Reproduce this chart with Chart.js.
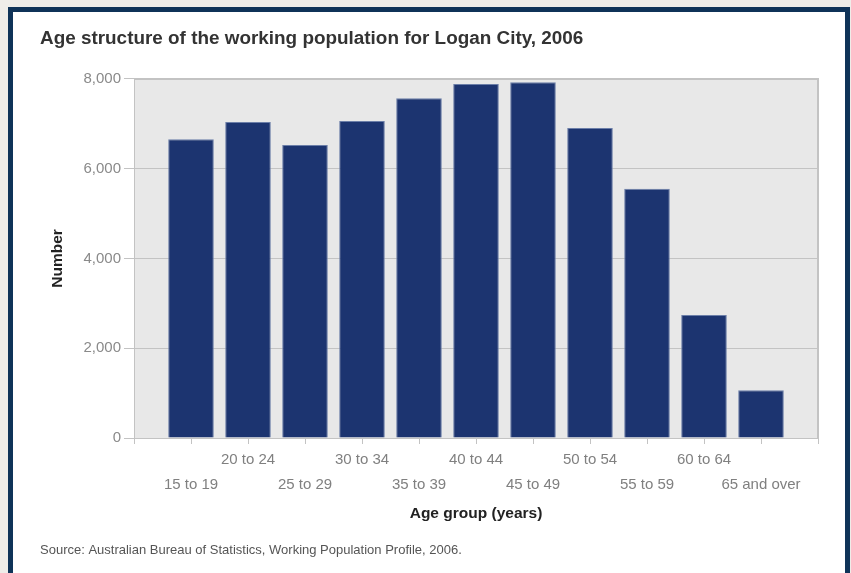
<!DOCTYPE html>
<html>
<head>
<meta charset="utf-8">
<script src="https://cdn.jsdelivr.net/npm/chart.js@4"></script>
<style>
  html, body { margin: 0; padding: 0; background: #efede9; overflow: hidden; }
  #frame {
    position: absolute; left: 8px; top: 7px; width: 832px; height: 600px;
    border: 5px solid #0f3358; background: #fff;
  }
  #wrap { position: absolute; left: 0; top: 0; width: 851px; height: 573px; }
</style>
</head>
<body>
<div id="frame"></div>
<div id="wrap"><canvas id="chart" width="851" height="573"></canvas></div>
<script>
// age groups and counts
var ageGroups = ["15 to 19", "20 to 24", "25 to 29", "30 to 34", "35 to 39", "40 to 44",
  "45 to 49", "50 to 54", "55 to 59", "60 to 64", "65 and over"];
var workers = [6655, 7040, 6530, 7065, 7570, 7890, 7925, 6910, 5555, 2740, 1065];
var yTicks = [0, 2000, 4000, 6000, 8000];

// empty slot at both ends, labels alternate between two rows
var labels = [""].concat(ageGroups.map(function (g, i) {
  return i % 2 === 0 ? ["", g] : [g];
})).concat([""]);
var values = [null].concat(workers).concat([null]);

var plotBackground = {
  id: "plotBackground",
  beforeDraw: function (chart) {
    var a = chart.chartArea, ctx = chart.ctx;
    ctx.save();
    ctx.fillStyle = "#e8e8e8";
    ctx.fillRect(a.left, a.top, a.right - a.left, a.bottom - a.top);
    ctx.restore();
  },
  afterDraw: function (chart) {
    var a = chart.chartArea, ctx = chart.ctx;
    ctx.save();
    ctx.strokeStyle = "#c3c3c3";
    ctx.lineWidth = 2;
    ctx.beginPath();
    ctx.moveTo(a.left, a.top);
    ctx.lineTo(a.right, a.top);
    ctx.lineTo(a.right, a.bottom);
    ctx.stroke();
    ctx.restore();
  }
};

var ctx = document.getElementById("chart").getContext("2d");
var chart = new Chart(ctx, {
  type: "bar",
  data: {
    labels: labels,
    datasets: [{
      label: "Number",
      data: values,
      backgroundColor: "#1c3470",
      borderColor: "#6b7ea8",
      borderWidth: 1,
      barPercentage: 1,
      categoryPercentage: 0.8
    }]
  },
  options: {
    responsive: false,
    animation: false,
    layout: { padding: { top: 12, left: 40, right: 33, bottom: 0 } },
    plugins: {
      legend: { display: false },
      tooltip: { enabled: false },
      title: {
        display: true,
        text: "Age structure of the working population for Logan City, 2006",
        align: "start",
        color: "#333",
        font: { family: "Liberation Sans, Arial", size: 18.9, weight: "bold" },
        padding: { top: 15.3, bottom: 29 }
      },
      subtitle: {
        display: true,
        position: "bottom",
        text: "Source: Australian Bureau of Statistics, Working Population Profile, 2006.",
        align: "start",
        color: "#555",
        font: { family: "Liberation Sans, Arial", size: 13 },
        padding: { top: 16.3, bottom: 15.2 }
      }
    },
    scales: {
      x: {
        offset: false,
        grid: {
          offset: false,
          drawOnChartArea: false,
          drawTicks: true,
          tickLength: 6,
          color: "#c3c3c3"
        },
        border: { display: true, color: "#c3c3c3", width: 1 },
        ticks: {
          autoSkip: false,
          maxRotation: 0,
          padding: 3,
          color: "#808080",
          font: { family: "Liberation Sans, Arial", size: 15, lineHeight: "25px" }
        },
        title: {
          display: true,
          text: "Age group (years)",
          color: "#222",
          font: { family: "Liberation Sans, Arial", size: 15.5, weight: "bold" },
          padding: { top: 4.3, bottom: 3 }
        }
      },
      y: {
        min: 0,
        max: 8000,
        afterFit: function (scale) { scale.width = 94; },
        afterBuildTicks: function (scale) {
          scale.ticks = yTicks.map(function (v) { return { value: v }; });
        },
        grid: { color: "#c3c3c3", tickLength: 10, drawTicks: true },
        border: { display: true, color: "#c3c3c3", width: 1 },
        ticks: {
          padding: 3,
          color: "#8a8a8a",
          font: { family: "Liberation Sans, Arial", size: 15 },
          callback: function (v) { return v.toLocaleString("en-US"); }
        },
        title: {
          display: true,
          text: "Number",
          color: "#222",
          font: { family: "Liberation Sans, Arial", size: 15.5, weight: "bold" },
          padding: { top: 8, bottom: 4 }
        }
      }
    }
  },
  plugins: [plotBackground]
});
</script>
</body>
</html>
